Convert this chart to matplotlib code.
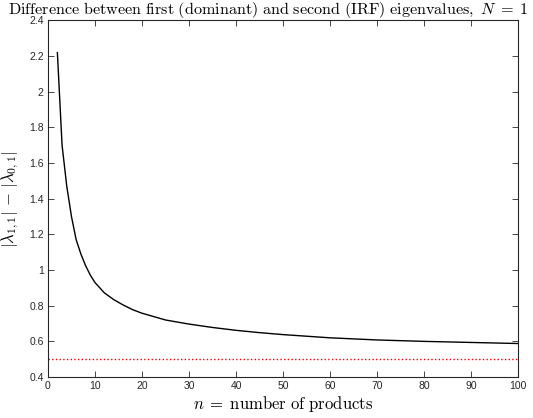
import numpy as np
import matplotlib
matplotlib.use('Agg')
import matplotlib.pyplot as plt

plt.rcParams['mathtext.fontset'] = 'cm'
plt.rcParams['font.family'] = ['Liberation Sans', 'DejaVu Sans']

# values
n_products = [2, 3, 4, 5, 6, 7, 8, 9, 10, 12, 14, 16, 18, 20, 25, 30, 35, 40,
              45, 50, 60, 70, 80, 90, 100]
eig_diff = [2.22, 1.70, 1.47, 1.30, 1.17, 1.09, 1.025, 0.972, 0.93, 0.872, 0.834,
            0.804, 0.778, 0.758, 0.72, 0.697, 0.678, 0.662, 0.649, 0.638, 0.620,
            0.608, 0.600, 0.594, 0.588]
ref_x = [0, 100]
ref_y = [0.5, 0.5]

x_ticks = np.arange(0, 101, 10)
y_ticks = [0.4, 0.6, 0.8, 1, 1.2, 1.4, 1.6, 1.8, 2, 2.2, 2.4]
y_labels = ['0.4', '0.6', '0.8', '1', '1.2', '1.4', '1.6', '1.8', '2', '2.2', '2.4']

fig = plt.figure(figsize=(5.33, 4.18), dpi=100)
ax = fig.add_axes([0.090, 0.098, 0.882, 0.853])

ax.plot(n_products, eig_diff, color='black', lw=1.0)
ax.plot(ref_x, ref_y, color='red', ls=':', lw=1.0)

ax.set_xlim(0, 100)
ax.set_ylim(0.4, 2.4)
ax.set_xticks(x_ticks)
ax.set_yticks(y_ticks)
ax.set_yticklabels(y_labels)

grey = '#262626'
for s in ax.spines.values():
    s.set_color(grey)
    s.set_linewidth(0.8)
ax.tick_params(direction='in', top=True, right=True, length=4, width=0.6,
               colors=grey, labelsize=7.5, pad=3)

fig.text(8 / 533, 1 - 10 / 418,
         r'$\mathrm{Difference\ between\ first\ (dominant)\ and\ second\ (IRF)\ eigenvalues},\ N\;=\;1$',
         fontsize=11.6, ha='left', va='center')
ax.set_xlabel(r'$n\;=\;\mathrm{number\ of\ products}$', fontsize=12, labelpad=2)
ax.set_ylabel(r'$|\lambda_{1,1}|\,-\,|\lambda_{0,1}|$', fontsize=12, labelpad=6)

fig.savefig('out.png', dpi=100)
